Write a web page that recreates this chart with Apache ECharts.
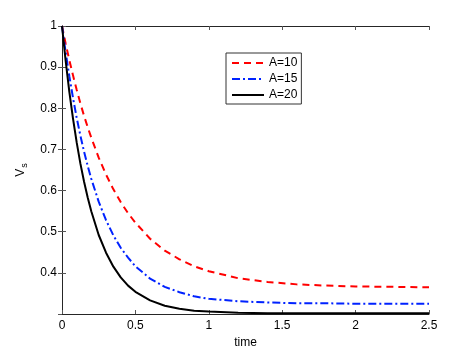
<!DOCTYPE html>
<html>
<head>
<meta charset="utf-8">
<script src="https://cdn.jsdelivr.net/npm/echarts@6/dist/echarts.min.js"></script>
<style>
  html, body { margin: 0; padding: 0; background: #fff; }
  #chart { width: 474px; height: 354px; }
</style>
</head>
<body>
<div id="chart"></div>
<script>
// values
const times = [0, 0.025, 0.05, 0.075, 0.1, 0.125, 0.15, 0.175, 0.2, 0.25, 0.3, 0.35, 0.4, 0.45, 0.5, 0.6, 0.7, 0.8, 0.9, 1.0, 1.2, 1.4, 1.6, 1.8, 2.0, 2.25, 2.5];
const vsA10 = [1.0, 0.957, 0.917, 0.880, 0.845, 0.812, 0.782, 0.754, 0.728, 0.680, 0.639, 0.603, 0.572, 0.545, 0.522, 0.483, 0.454, 0.433, 0.416, 0.404, 0.387, 0.378, 0.372, 0.369, 0.367, 0.366, 0.365];
const vsA15 = [1.0, 0.936, 0.878, 0.825, 0.777, 0.734, 0.695, 0.660, 0.628, 0.573, 0.528, 0.491, 0.461, 0.437, 0.416, 0.386, 0.366, 0.353, 0.343, 0.337, 0.331, 0.328, 0.326, 0.326, 0.325, 0.325, 0.325];
const vsA20 = [1.0, 0.915, 0.840, 0.775, 0.717, 0.666, 0.622, 0.583, 0.549, 0.492, 0.449, 0.415, 0.389, 0.369, 0.354, 0.333, 0.320, 0.313, 0.308, 0.306, 0.303, 0.302, 0.302, 0.302, 0.302, 0.302, 0.302];
const seriesNames = ["A=10", "A=15", "A=20"];

const font = "'Liberation Sans', Arial, Helvetica, sans-serif";
const pairs = (ys) => times.map((t, i) => [t, ys[i]]);

const chart = echarts.init(document.getElementById("chart"), null, { renderer: "canvas" });

const axisLine = { show: true, lineStyle: { color: "#262626", width: 1 } };
const tick = { show: true, inside: true, length: 4, lineStyle: { color: "#555" } };

chart.setOption({
  animation: false,
  backgroundColor: "#fff",
  grid: { left: 62, right: 45, top: 26, bottom: 40 },
  legend: {
    orient: "vertical",
    left: 226,
    top: 53,
    width: 70,
    padding: [4, 4, 3, 5],
    itemGap: 4,
    itemWidth: 32,
    itemHeight: 10,
    backgroundColor: "#fff",
    borderColor: "#333",
    borderWidth: 1,
    itemStyle: { opacity: 0 },
    textStyle: { fontFamily: font, fontSize: 12, color: "#000", padding: [0, 0, 0, 0] },
    data: seriesNames,
  },
  xAxis: [
    {
      type: "value",
      min: 0,
      max: 2.5,
      interval: 0.5,
      name: "time",
      nameLocation: "middle",
      nameGap: 22,
      nameTextStyle: { fontFamily: font, fontSize: 12, color: "#000" },
      axisLine: axisLine,
      axisTick: tick,
      splitLine: { show: false },
      axisLabel: { fontFamily: font, fontSize: 12, color: "#000", margin: 6 },
    },
    {
      type: "value",
      position: "top",
      min: 0,
      max: 2.5,
      interval: 0.5,
      axisLine: axisLine,
      axisTick: tick,
      splitLine: { show: false },
      axisLabel: { show: false },
    },
  ],
  yAxis: [
    {
      type: "value",
      min: 0.3,
      max: 1,
      interval: 0.1,
      name: "V{s|s}",
      nameLocation: "middle",
      nameGap: 27,
      nameRotate: 90,
      nameTextStyle: {
        fontFamily: font,
        fontSize: 12,
        color: "#000",
        rich: { s: { fontFamily: font, fontSize: 9, color: "#000", verticalAlign: "bottom", padding: [8, 0, 0, 1] } },
      },
      axisLine: axisLine,
      axisTick: tick,
      splitLine: { show: false },
      axisLabel: {
        fontFamily: font,
        fontSize: 12,
        color: "#000",
        margin: 5,
        showMinLabel: false,
        formatter: (v) => (Math.abs(v - 1) < 1e-9 ? "1" : v.toFixed(1)),
      },
    },
    {
      type: "value",
      position: "right",
      min: 0.3,
      max: 1,
      interval: 0.1,
      axisLine: axisLine,
      axisTick: tick,
      splitLine: { show: false },
      axisLabel: { show: false },
    },
  ],
  series: [
    {
      name: seriesNames[0],
      type: "line",
      data: pairs(vsA10),
      showSymbol: false,
      symbol: "none",
      color: "#ff0000",
      lineStyle: { color: "#ff0000", width: 2, type: [7, 5] },
    },
    {
      name: seriesNames[1],
      type: "line",
      data: pairs(vsA15),
      showSymbol: false,
      symbol: "none",
      color: "#0022ff",
      lineStyle: { color: "#0022ff", width: 2, type: [8, 3, 2, 3] },
    },
    {
      name: seriesNames[2],
      type: "line",
      data: pairs(vsA20),
      showSymbol: false,
      symbol: "none",
      color: "#000",
      lineStyle: { color: "#000", width: 2 },
    },
  ],
});
</script>
</body>
</html>
